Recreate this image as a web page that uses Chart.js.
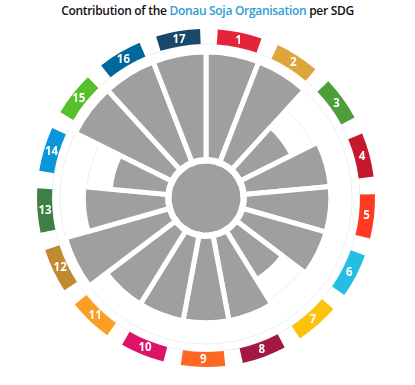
<!DOCTYPE html>
<html>
<head>
<meta charset="utf-8">
<script src="https://cdn.jsdelivr.net/npm/chart.js@4/dist/chart.umd.min.js"></script>
<style>
  html, body { margin: 0; padding: 0; background: #fff; }
  body { width: 415px; height: 385px; position: relative; overflow: hidden; }
  #titulo {
    position: absolute; left: 0; top: 2px; width: 415px;
    text-align: center; font-family: "Open Sans", sans-serif;
    font-size: 12px; font-weight: 600; color: #111; white-space: nowrap;
    letter-spacing: -0.3px;
  }
  #titulo span { color: #2d9cd1; }
  .capa { position: absolute; left: 36px; top: 28px; width: 340px; height: 340px; }
  #anillo { pointer-events: none; }
</style>
</head>
<body>
<div id="titulo">Contribution of the <span>Donau Soja Organisation</span> per SDG</div>
<canvas id="barras" class="capa" width="340" height="340"></canvas>
<canvas id="anillo" class="capa" width="340" height="340"></canvas>

<script>
// ─────────────────────────────────────────────────────────────
// Data
// ─────────────────────────────────────────────────────────────
const sdgLabels = ['1', '2', '3', '4', '5', '6', '7', '8', '9',
                   '10', '11', '12', '13', '14', '15', '16', '17'];

// contribution per SDG (0–100)
const contribution = [100, 100, 53, 80, 80, 80, 53, 80, 80,
                      80, 80, 100, 78, 53, 100, 100, 100];

const sdgColors = [
  '#E5243B', '#DDA63A', '#4C9F38', '#C5192D', '#FF3A21', '#26BDE2',
  '#FCC30B', '#A21942', '#FD6925', '#DD1367', '#FD9D24', '#BF8B2E',
  '#3F7E44', '#0A97D9', '#56C02B', '#00689D', '#19486A'
];

// circular grid positions
const gridTicks = [25, 50, 75, 100, 107.5];

const GRIS = '#9f9f9f';
const SECTOR = 360 / sdgLabels.length;
const GAP = 6;

// ─────────────────────────────────────────────────────────────
// Polar area — grey bars
// ─────────────────────────────────────────────────────────────
new Chart(document.getElementById('barras'), {
  type: 'polarArea',
  data: {
    labels: sdgLabels,
    datasets: [{
      data: contribution,
      backgroundColor: GRIS,
      borderColor: '#fff',
      borderWidth: 5,
    }]
  },
  options: {
    responsive: false,
    animation: false,
    layout: { padding: 16 },
    plugins: { legend: { display: false }, tooltip: { enabled: false } },
    scales: {
      r: {
        min: -37.74,
        max: 107.5,
        z: 1,
        afterBuildTicks: s => { s.ticks = gridTicks.map(v => ({ value: v })); },
        ticks: { display: false },
        pointLabels: { display: false },
        angleLines: { display: false },
        grid: { color: 'rgba(207,207,207,0.35)', lineWidth: 1 }
      }
    }
  }
});

// ─────────────────────────────────────────────────────────────
// Doughnut — SDG ring, white gap and grey hub
// ─────────────────────────────────────────────────────────────
const ringData = [];
const ringColors = [];
sdgColors.forEach(c => {
  ringData.push(SECTOR - GAP, GAP);
  ringColors.push(c, 'rgba(0,0,0,0)');
});

const numerosSdg = {
  id: 'numerosSdg',
  afterDatasetsDraw(chart) {
    const ctx = chart.ctx;
    const arcs = chart.getDatasetMeta(0).data;
    ctx.save();
    ctx.fillStyle = '#fff';
    ctx.font = 'bold 11.5px "Open Sans", sans-serif';
    ctx.textAlign = 'center';
    ctx.textBaseline = 'middle';
    sdgLabels.forEach((t, i) => {
      const p = arcs[i * 2].getCenterPoint();
      ctx.fillText(t, p.x, p.y + 0.5);
    });
    ctx.restore();
  }
};

new Chart(document.getElementById('anillo'), {
  type: 'doughnut',
  data: {
    datasets: [
      { data: ringData, backgroundColor: ringColors, borderWidth: 0, weight: 15 },
      { data: [1], backgroundColor: 'rgba(0,0,0,0)', borderWidth: 0, weight: 113 },
      { data: [1], backgroundColor: '#fff', borderWidth: 0, weight: 6.5 },
      { data: [1], backgroundColor: GRIS, borderWidth: 0, weight: 34.5 }
    ]
  },
  options: {
    responsive: false,
    animation: false,
    cutout: 0,
    radius: 169,
    rotation: GAP / 2 + 1,
    plugins: { legend: { display: false }, tooltip: { enabled: false } }
  },
  plugins: [numerosSdg]
});
</script>
</body>
</html>
